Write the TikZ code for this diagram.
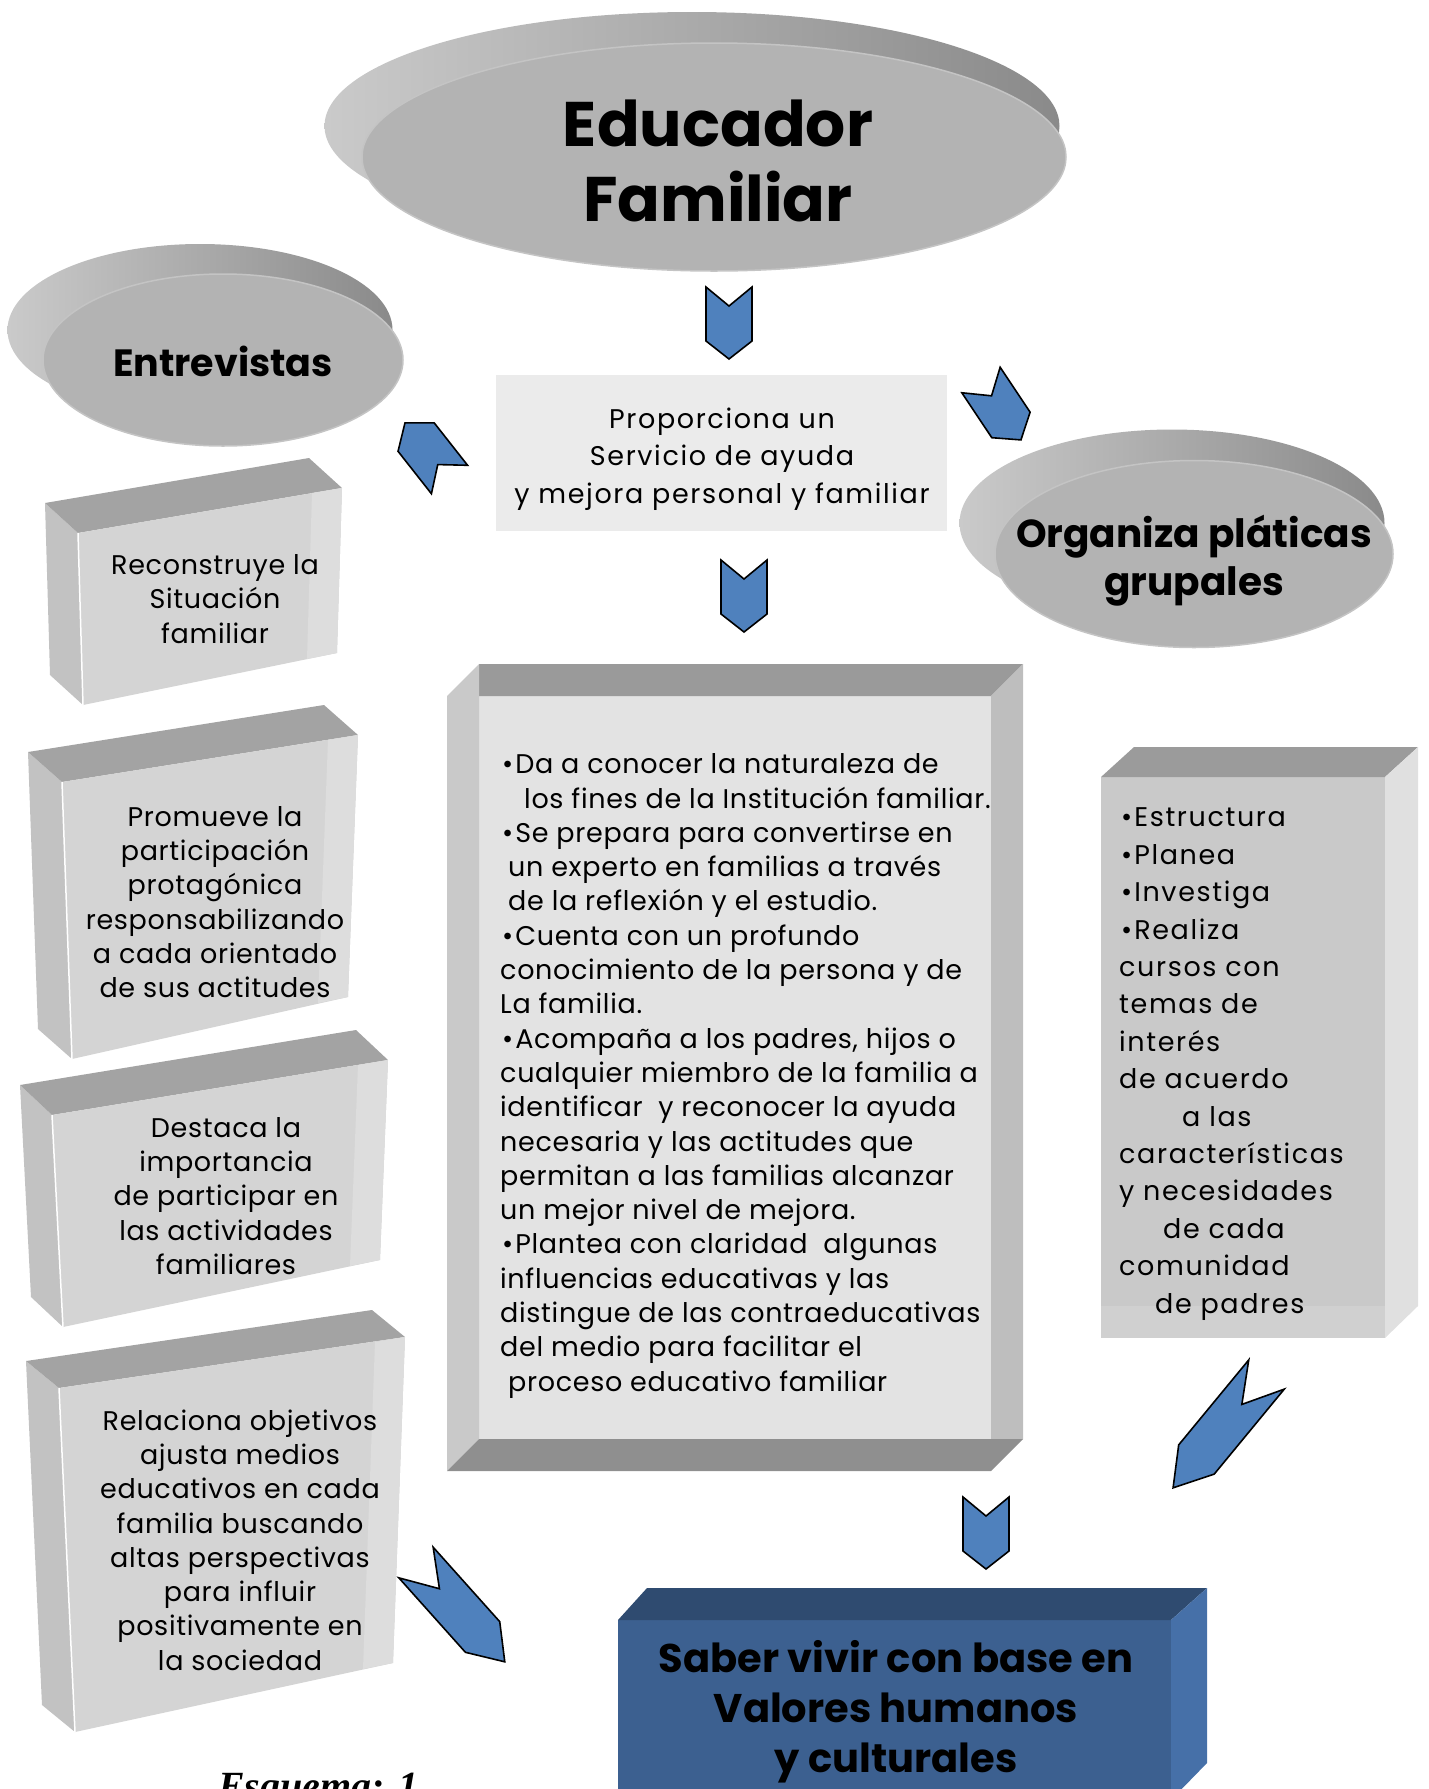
\documentclass[tikz,border=0pt]{standalone}
\usepackage{fontspec}
\setmainfont{Poppins}
\newfontfamily\esqfont{Liberation Serif}
\newfontfamily\tightfont[LetterSpace=2.5]{Poppins}
\newfontfamily\widefont[LetterSpace=6]{Poppins}
\usetikzlibrary{shapes.geometric,calc}
\definecolor{arrowblue}{RGB}{79,129,189}
\definecolor{discgrey}{RGB}{179,179,179}
\definecolor{discrim}{RGB}{196,196,196}
\definecolor{sidelight}{RGB}{202,202,202}
\definecolor{sidedark}{RGB}{138,138,138}
\definecolor{boxlight}{RGB}{235,235,235}
\definecolor{slabfront}{RGB}{212,212,212}
\definecolor{slabtop}{RGB}{163,163,163}
\definecolor{slabside}{RGB}{194,194,194}
\definecolor{slabshine}{RGB}{221,221,221}
\definecolor{blueface}{RGB}{60,96,144}
\definecolor{bluetop}{RGB}{47,75,112}
\definecolor{blueside}{RGB}{70,112,168}
\tikzset{
  chevron/.style={fill=arrowblue, draw=black, line width=1.6pt},
  chev/.pic={\path[chevron] (0,-23) -- (54,-23) -- (72,0) -- (54,23) -- (0,23) -- (19,0) -- cycle;},
  discback/.style={ellipse, left color=sidelight, right color=sidedark, inner sep=0pt},
  discfront/.style={ellipse, fill=discgrey, draw=discrim, line width=1.5pt, inner sep=0pt},
  disctext/.style={align=center, inner sep=0pt, font=\fontsize{39}{48}\selectfont\bfseries},
  slabtext/.style={align=center, inner sep=0pt, font=\bodyfont},
  probox/.style={fill=boxlight, minimum width=451, minimum height=156, inner sep=0pt},
}
\newcommand\bodyfont{\fontsize{27}{34.3}\tightfont}
\newcommand\bul{\hspace*{2pt}\textbullet\hspace{2pt}}
% front face D, C, E, F and depth vector
\newcommand\slab[5]{%
  \fill[slabside] ($#1-#5$) -- #1 -- #4 -- ($#4-#5$) -- cycle;
  \fill[slabtop] ($#1-#5$) -- ($#2-#5$) -- #2 -- #1 -- cycle;
  \fill[slabfront] #1 -- #2 -- #3 -- #4 -- cycle;
  \fill[slabshine] ($#2+(-30,5)$) -- #2 -- #3 -- ($#3+(-30,6)$) -- cycle;
  \draw[white, line width=1.5pt] #1 -- #4;
}

\begin{document}
\begin{tikzpicture}[x=1pt, y=-1pt]
  \useasboundingbox (0,0) rectangle (1428,1789);
  \clip (0,0) rectangle (1428,1789);

  % discs
  \node[discback, minimum width=735, minimum height=228] (eduback) at (692,126) {};
  \node[discfront, minimum width=704, minimum height=228] (edu) at (714,157) {};
  \node[disctext, font=\fontsize{63}{75}\selectfont\bfseries] (edutext) at (718,161) {Educador\\Familiar};
  \node[discback, minimum width=385, minimum height=172] (entback) at (200,330) {};
  \node[discfront, minimum width=360, minimum height=172] (ent) at (223,360) {};
  \node[disctext, font=\fontsize{38}{48}\selectfont\bfseries] (enttext) at (223,361) {Entrevistas};
  \node[discback, minimum width=425, minimum height=187] (orgback) at (1172,523) {};
  \node[discfront, minimum width=398, minimum height=187] (org) at (1194,554) {};
  \node[disctext] (orgtext) at (1194,561) {Organiza pláticas\\grupales};

  \node[probox] (serv) at (721.5,453) {};
  \node[align=center, inner sep=0pt, font=\fontsize{27}{37.5}\widefont] (servtext) at (722,459)
    {Proporciona un\\Servicio de ayuda\\y mejora personal y familiar};

  % left blocks
  \slab{(78,533)}{(342,488)}{(337,653)}{(83,705)}{(33,30)}
  \slab{(62,782)}{(358,735)}{(348,997)}{(72,1059)}{(34,30)}
  \slab{(52,1115)}{(388,1060)}{(380,1260)}{(63,1327)}{(32,30)}
  \slab{(59,1388)}{(405,1337)}{(393,1663)}{(75,1732)}{(33,27)}
  \node[slabtext] (recon) at (215,599) {Reconstruye la\\Situación\\familiar};
  \node[slabtext] (promueve) at (215,902) {Promueve la\\participación\\protagónica\\responsabilizando\\a cada orientado\\de sus actitudes};
  \node[slabtext] (destaca) at (226,1196) {Destaca la\\importancia\\de participar en\\las actividades\\familiares};
  \node[slabtext] (relaciona) at (240,1540) {Relaciona objetivos\\ajusta medios\\educativos en cada\\familia buscando\\altas perspectivas\\para influir\\positivamente en\\la sociedad};

  % central frame
  \fill[fill={rgb,255:red,227;green,227;blue,227}] (479,696) rectangle (991,1439);
  \fill[fill={rgb,255:red,154;green,154;blue,154}] (479,664) -- (1023,664) -- (991,696) -- (479,696) -- cycle;
  \fill[fill={rgb,255:red,201;green,201;blue,201}] (447,696) -- (479,664) -- (479,1439) -- (447,1471) -- cycle;
  \fill[fill={rgb,255:red,190;green,190;blue,190}] (991,696) -- (1023,664) -- (1023,1439) -- (991,1439) -- cycle;
  \fill[fill={rgb,255:red,143;green,143;blue,143}] (447,1471) -- (479,1439) -- (1023,1439) -- (991,1471) -- cycle;
  \node[anchor=west, align=left, inner sep=0pt, font=\bodyfont] (info) at (500,1076) {%
    \bul Da a conocer la naturaleza de\\
    \hspace*{24pt}los fines de la Institución familiar.\\
    \bul Se prepara para convertirse en\\
    \hspace*{8pt}un experto en familias a través\\
    \hspace*{8pt}de la reflexión y el estudio.\\
    \bul Cuenta con un profundo\\
    conocimiento de la persona y de\\
    La familia.\\
    \bul Acompaña a los padres, hijos o\\
    cualquier miembro de la familia a\\
    identificar\ \ y reconocer la ayuda\\
    necesaria y las actitudes que\\
    permitan a las familias alcanzar\\
    un mejor nivel de mejora.\\
    \bul Plantea con claridad\ \ algunas\\
    influencias educativas y las\\
    distingue de las contraeducativas\\
    del medio para facilitar el\\
    \hspace*{8pt}proceso educativo familiar};

  % right block
  \fill[fill={rgb,255:red,201;green,201;blue,201}] (1101,777) rectangle (1385,1338);
  \fill[fill={rgb,255:red,208;green,208;blue,208}] (1101,1306) rectangle (1385,1338);
  \fill[fill={rgb,255:red,155;green,155;blue,155}] (1101,777) -- (1134,747) -- (1418,747) -- (1385,777) -- cycle;
  \fill[fill={rgb,255:red,224;green,224;blue,224}] (1385,777) -- (1418,747) -- (1418,1306) -- (1385,1338) -- cycle;
  \node[anchor=west, align=left, inner sep=0pt, font=\fontsize{27}{37.4}\widefont] (plan) at (1119,1064) {%
    \bul Estructura\\ \bul Planea\\ \bul Investiga\\ \bul Realiza\\
    cursos con\\ temas de\\ interés\\ de acuerdo\\
    \hspace*{63pt}a las\\ características\\ y necesidades\\
    \hspace*{44pt}de cada\\ comunidad\\ \hspace*{36pt}de padres};

  % bottom block
  \fill[blueface] (618,1620) rectangle (1171,1800);
  \fill[bluetop] (618,1620) -- (647,1588) -- (1207,1588) -- (1171,1620) -- cycle;
  \fill[blueside] (1171,1620) -- (1207,1588) -- (1207,1763) -- (1171,1800) -- cycle;
  \node[align=center, inner sep=0pt, font=\fontsize{40}{50}\selectfont\bfseries] (saber) at (896,1712)
    {Saber vivir con base en\\Valores humanos\\y culturales};

  % chevrons
  \pic[rotate=-90] at (729,287) {chev};
  \pic[rotate=-90] at (744,560) {chev};
  \pic[rotate=128.2] at (449.5,479.5) {chev};
  \pic[rotate=-56.3] at (981,380) {chev};
  \pic[rotate=-129.5, xscale=2.04] at (1266.5,1374.5) {chev};
  \pic[rotate=-48.2, xscale=1.85] at (416,1562.5) {chev};
  \pic[rotate=-90] at (986,1497) {chev};

  \node[anchor=base west, inner sep=0pt, font=\fontsize{40}{48}\esqfont\bfseries\itshape] (esq) at (218,1799) {Esquema: 1};
\end{tikzpicture}
\end{document}
